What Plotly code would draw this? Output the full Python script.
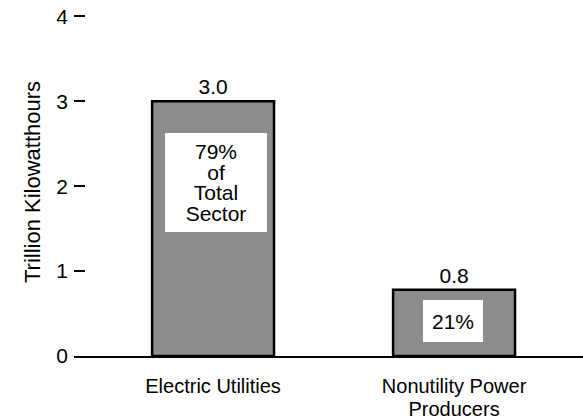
import plotly.graph_objects as go

categories = ["Electric Utilities", "Nonutility Power<br>Producers"]
values = [3.0, 0.78]
value_labels = ["3.0", "0.8"]
share_lines = [["79%", "of", "Total", "Sector"], ["21%"]]
y_ticks = [0, 1, 2, 3, 4]

FONT = "Liberation Sans, Arial, Helvetica, sans-serif"
FS = 21


def tight(lines, size=FS):
    # glyphs at `size`, line pitch set by the (smaller) base font size
    return "<br>".join(f'<span style="font-size:{size}px">{t}</span>' for t in lines)


x_pos = list(range(len(categories)))

fig = go.Figure()
fig.add_trace(go.Bar(
    x=x_pos, y=values, width=0.506,
    marker=dict(color="#8c8c8c", line=dict(color="black", width=2.5)),
    text=value_labels, textposition="outside",
    textfont=dict(family=FONT, size=FS, color="black"),
    cliponaxis=False, hoverinfo="skip",
))

# white label boxes inside the bars
box_specs = [
    dict(y=2.04, w=102, h=99, xs=3),
    dict(y=0.41, w=60, h=42, xs=-1),
]
annotations = []
for i, b in enumerate(box_specs):
    annotations.append(dict(
        x=x_pos[i], y=b["y"], xref="x", yref="y", text=tight(share_lines[i]),
        showarrow=False, width=b["w"], height=b["h"], bgcolor="white",
        borderpad=0, borderwidth=0, xshift=b["xs"], valign="middle",
        font=dict(family=FONT, size=16, color="black"),
    ))

tick_text = [tight(c.split("<br>"), size=20) for c in categories]

fig.update_layout(
    width=583, height=420,
    margin=dict(l=74, r=0, t=8, b=64, autoexpand=False),
    paper_bgcolor="white", plot_bgcolor="white",
    showlegend=False,
    font=dict(family=FONT, size=FS, color="black"),
    annotations=annotations,
    xaxis=dict(
        tickvals=x_pos, ticktext=tick_text, range=[-0.577, 1.535],
        showline=True, linecolor="black", linewidth=2, ticks="",
        showgrid=False, zeroline=False, fixedrange=True, automargin=False,
        ticklabelstandoff=15,
        tickfont=dict(family=FONT, size=17, color="black"),
    ),
    yaxis=dict(
        range=[0, 4.1], tickvals=y_ticks, ticks="inside", ticklen=11,
        tickwidth=2, tickcolor="black", showline=False, showgrid=False,
        zeroline=False, ticklabelstandoff=5, automargin=False, fixedrange=True,
        title=dict(text="Trillion Kilowatthours", standoff=9,
                   font=dict(family=FONT, size=22, color="black")),
        tickfont=dict(family=FONT, size=FS, color="black"),
    ),
)

fig.write_html("out.html", config={"displayModeBar": False},
               post_script="document.body.style.margin='0';")
